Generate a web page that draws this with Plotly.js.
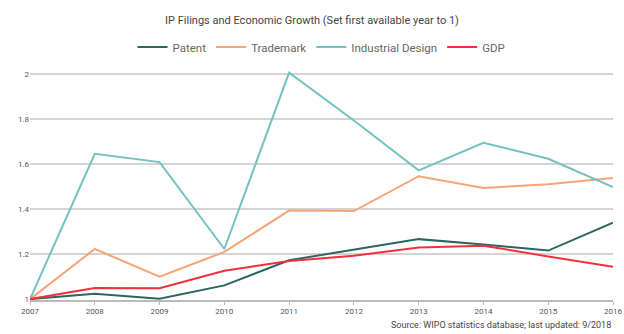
<!DOCTYPE html>
<html>
<head>
<meta charset="utf-8">
<script src="https://cdn.plot.ly/plotly-3.0.1.min.js"></script>
<style>html,body{margin:0;padding:0;background:#fff;}#chart{width:624px;height:334px;}</style>
</head>
<body>
<div id="chart"></div>
<script>
var years = ["2007","2008","2009","2010","2011","2012","2013","2014","2015","2016"];
var patent = [1, 1.024, 1.002, 1.061, 1.173, 1.22, 1.267, 1.243, 1.216, 1.34];
var trademark = [1, 1.223, 1.10, 1.21, 1.394, 1.392, 1.547, 1.495, 1.511, 1.539];
var industrialDesign = [1, 1.647, 1.61, 1.223, 2.008, 1.795, 1.573, 1.696, 1.625, 1.499];
var gdp = [1, 1.049, 1.048, 1.126, 1.17, 1.193, 1.23, 1.238, 1.19, 1.144];
var yTicks = [1, 1.2, 1.4, 1.6, 1.8, 2];
var yTickLabels = ["1", "1.2", "1.4", "1.6", "1.8", "2"];

var font = "Roboto, 'Liberation Sans', Arial, sans-serif";
function tr(name, y, color, w) {
  return {x: years, y: y, name: name, type: "scatter", mode: "lines",
          line: {color: color, width: w}};
}
var data = [
  tr("Patent", patent, "#2b6660", 2),
  tr("Trademark", trademark, "#f7a578", 2),
  tr("Industrial Design", industrialDesign, "#74c2c0", 2),
  tr("GDP", gdp, "#f0303c", 2)
];
var layout = {
  width: 624, height: 334,
  margin: {l: 30, r: 11, t: 70, b: 34},
  paper_bgcolor: "#fff", plot_bgcolor: "#fff",
  title: {text: "IP Filings and Economic Growth (Set first available year to 1)",
          font: {family: font, size: 11, color: "#444"}, x: 0.5, xanchor: "center", y: 0.94, yanchor: "middle"},
  showlegend: true,
  legend: {orientation: "h", x: 0.5, xanchor: "center", y: 1.1, yanchor: "middle",
           font: {family: font, size: 11.5, color: "#666"}, traceorder: "normal"},
  xaxis: {type: "category", showgrid: false, showline: true, linecolor: "#bbb", linewidth: 1.5,
          ticks: "outside", ticklen: 3, tickcolor: "#bbb", range: [0, 9],
          tickfont: {family: font, size: 8, color: "#555"}, zeroline: false, fixedrange: true},
  yaxis: {range: [0.996, 2.02], tickvals: yTicks, ticktext: yTickLabels, showgrid: true,
          gridcolor: "#d4d4d4", gridwidth: 2, zeroline: false, showline: false, ticks: "",
          tickfont: {family: font, size: 8, color: "#555"}, fixedrange: true},
  annotations: [{text: "Source: WIPO statistics database; last updated: 9/2018", xref: "paper", yref: "paper",
                 x: 1, y: -0.11, xanchor: "right", yanchor: "middle", showarrow: false,
                 font: {family: font, size: 9, color: "#444"}}]
};
Plotly.newPlot("chart", data, layout, {displayModeBar: false, staticPlot: true});
</script>
</body>
</html>
